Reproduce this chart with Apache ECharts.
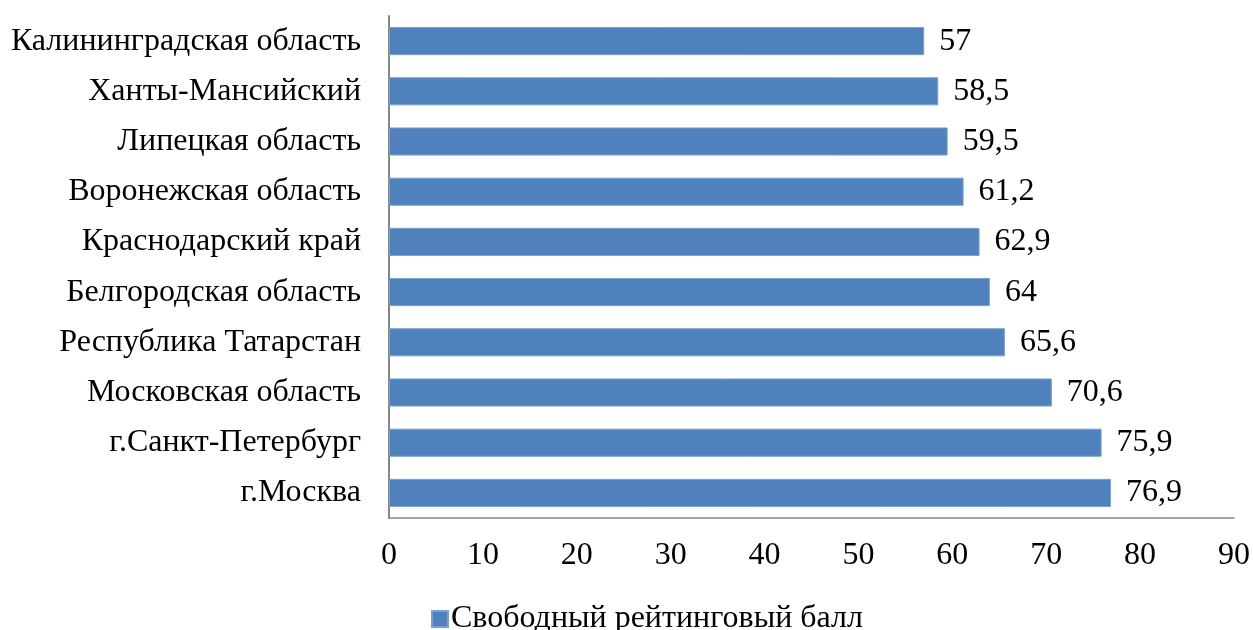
<!DOCTYPE html>
<html><head><meta charset="utf-8">
<script src="https://cdn.jsdelivr.net/npm/echarts@6/dist/echarts.min.js"></script>
<style>html,body{margin:0;padding:0;background:#fff}#c{width:1253px;height:630px}</style>
</head><body><div id="c"></div>
<script>
const categories = ["Калининградская область","Ханты-Мансийский","Липецкая область","Воронежская область","Краснодарский край","Белгородская область","Республика Татарстан","Московская область","г.Санкт-Петербург","г.Москва"];
const values = [57, 58.5, 59.5, 61.2, 62.9, 64, 65.6, 70.6, 75.9, 76.9];
const seriesName = "Свободный рейтинговый балл";
const xTicks = [0,10,20,30,40,50,60,70,80,90];

const font = "'Liberation Serif','Times New Roman',serif";
const chart = echarts.init(document.getElementById('c'));
chart.setOption({
  animation:false,
  textStyle:{fontFamily:font},
  grid:{left:389, right:19, top:16, bottom:112, containLabel:false},
  legend:{
    top:598, left:426, itemWidth:16, itemHeight:16, itemGap:5,
    icon:'rect',
    textStyle:{fontFamily:font, fontSize:32, color:'#000', padding:[0,0,0,-2]},
    data:[seriesName]
  },
  xAxis:{
    type:'value', min:0, max:90, interval:10,
    axisLine:{show:true, lineStyle:{color:'#868686', width:1.5}},
    axisTick:{show:false},
    splitLine:{show:false},
    axisLabel:{fontFamily:font, fontSize:32, color:'#000', margin:22,
      formatter:v=> xTicks.includes(v) ? String(v) : ''}
  },
  yAxis:{
    type:'category', inverse:true, data:categories,
    axisLine:{show:true, lineStyle:{color:'#868686', width:2}},
    axisTick:{show:false},
    axisLabel:{fontFamily:font, fontSize:32, color:'#000', margin:28}
  },
  series:[{
    name:seriesName, type:'bar', data:values,
    barCategoryGap:'44%',
    itemStyle:{color:'#4F81BD', borderColor:'#7BA0CD', borderWidth:1},
    label:{show:true, position:'right', distance:15, fontFamily:font, fontSize:32, color:'#000',
      formatter:p=>String(p.value).replace('.',',')}
  }]
});
</script></body></html>
